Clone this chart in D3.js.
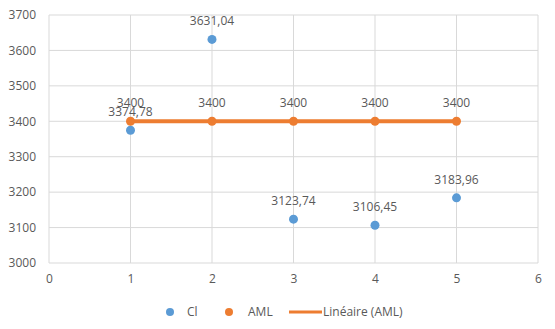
<!DOCTYPE html>
<html>
<head>
<meta charset="utf-8">
<script src="https://cdn.jsdelivr.net/npm/d3@7/dist/d3.min.js"></script>
<style>
  html, body { margin: 0; padding: 0; background: #fff; }
  svg text { font-family: "Open Sans", "Noto Sans", sans-serif; fill: #595959; }
</style>
</head>
<body>
<svg id="chart" width="555" height="329"></svg>
<script>
// Series data
const xValues = [1, 2, 3, 4, 5];
const clValues = [3374.78, 3631.04, 3123.74, 3106.45, 3183.96];
const amlValues = [3400, 3400, 3400, 3400, 3400];
const xTicks = [0, 1, 2, 3, 4, 5, 6];
const yTicks = [3000, 3100, 3200, 3300, 3400, 3500, 3600, 3700];
const legendLabels = ["Cl", "AML", "Linéaire (AML)"];

const blue = "#5b9bd5", orange = "#ed7d31", grid = "#d9d9d9";
const svg = d3.select("#chart");

const x = d3.scaleLinear().domain([0, 6]).range([49, 538]);
const y = d3.scaleLinear().domain([3000, 3700]).range([263, 15]);

const fmt = v => String(v).replace(".", ",");

// Gridlines
svg.append("g").selectAll("line").data(yTicks).join("line")
  .attr("x1", x(0)).attr("x2", x(6))
  .attr("y1", d => y(d)).attr("y2", d => y(d))
  .attr("stroke", grid).attr("stroke-width", 1);
svg.append("g").selectAll("line").data(xTicks).join("line")
  .attr("x1", d => x(d)).attr("x2", d => x(d))
  .attr("y1", y(3000)).attr("y2", y(3700))
  .attr("stroke", grid).attr("stroke-width", 1);

// Axes (labels only)
const yAxis = svg.append("g").attr("transform", `translate(${x(0)},0)`)
  .call(d3.axisLeft(y).tickValues(yTicks).tickSize(0).tickPadding(13).tickFormat(d3.format("d")));
const xAxis = svg.append("g").attr("transform", `translate(0,${y(3000)})`)
  .call(d3.axisBottom(x).tickValues(xTicks).tickSize(0).tickPadding(11).tickFormat(d3.format("d")));
[yAxis, xAxis].forEach(a => {
  a.select(".domain").remove();
  a.selectAll("text").attr("font-size", 12).style("font-family", "'Open Sans', sans-serif").attr("fill", "#595959");
});

// Linear trendline for AML (least squares)
const n = xValues.length;
const mx = d3.mean(xValues), my = d3.mean(amlValues);
const sxy = d3.sum(xValues, (v, i) => (v - mx) * (amlValues[i] - my));
const sxx = d3.sum(xValues, v => (v - mx) ** 2);
const slope = sxx ? sxy / sxx : 0;
const intercept = my - slope * mx;
const x0 = d3.min(xValues), x1 = d3.max(xValues);
svg.append("path")
  .datum([x0, x1])
  .attr("d", d3.line().x(d => x(d)).y(d => y(intercept + slope * d)))
  .attr("stroke", orange).attr("stroke-width", 4).attr("fill", "none");

// Cl points
svg.append("g").selectAll("circle").data(xValues).join("circle")
  .attr("cx", d => x(d)).attr("cy", (d, i) => y(clValues[i])).attr("r", 4.5)
  .attr("fill", blue);
// AML points
svg.append("g").selectAll("circle").data(xValues).join("circle")
  .attr("cx", d => x(d)).attr("cy", (d, i) => y(amlValues[i])).attr("r", 4.5)
  .attr("fill", orange);

// Data labels
svg.append("g").selectAll("text").data(xValues).join("text")
  .attr("x", d => x(d)).attr("y", (d, i) => y(amlValues[i]) - 14)
  .attr("text-anchor", "middle").attr("font-size", 12)
  .text((d, i) => fmt(amlValues[i]));
svg.append("g").selectAll("text").data(xValues).join("text")
  .attr("x", d => x(d)).attr("y", (d, i) => y(clValues[i]) - 14)
  .attr("text-anchor", "middle").attr("font-size", 12)
  .text((d, i) => fmt(clValues[i]));

// Legend
const ly = 312;
const leg = svg.append("g");
leg.append("circle").attr("cx", 170).attr("cy", ly).attr("r", 4).attr("fill", blue);
leg.append("text").attr("x", 187).attr("y", ly + 4).attr("font-size", 12).text(legendLabels[0]);
leg.append("circle").attr("cx", 229).attr("cy", ly).attr("r", 4).attr("fill", orange);
leg.append("text").attr("x", 248).attr("y", ly + 4).attr("font-size", 12).text(legendLabels[1]);
leg.append("line").attr("x1", 289).attr("x2", 322).attr("y1", ly).attr("y2", ly)
  .attr("stroke", orange).attr("stroke-width", 3);
leg.append("text").attr("x", 323).attr("y", ly + 4).attr("font-size", 12).text(legendLabels[2]);
</script>
</body>
</html>
